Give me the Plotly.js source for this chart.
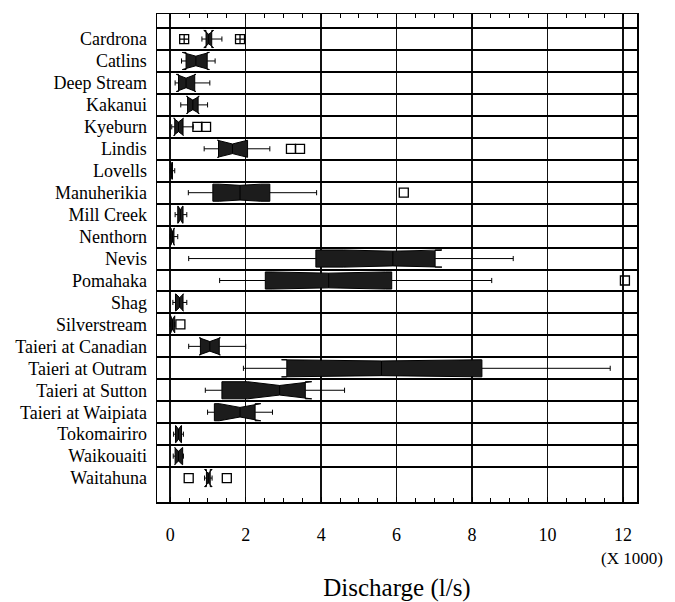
<!DOCTYPE html>
<html>
<head>
<meta charset="utf-8">
<script src="https://cdn.plot.ly/plotly-3.0.1.min.js"></script>
<style>
html,body{margin:0;padding:0;background:#fff;}
#chart{width:675px;height:602px;}
</style>
</head>
<body>
<div id="chart"></div>
<script>
// Sites (categories, top to bottom)
var sites = ["Cardrona","Catlins","Deep Stream","Kakanui","Kyeburn","Lindis","Lovells",
  "Manuherikia","Mill Creek","Nenthorn","Nevis","Pomahaka","Shag","Silverstream",
  "Taieri at Canadian","Taieri at Outram","Taieri at Sutton","Taieri at Waipiata",
  "Tokomairiro","Waikouaiti","Waitahuna"];

// Box statistics, discharge in thousands of l/s
var lowerFence = [0.84,0.30,0.13,0.28,0.04,0.90,0.00,0.48,0.13,0.00,0.49,1.31,0.07,0.00,0.49,1.94,0.93,0.99,0.09,0.08,0.93];
var q1Vals     = [0.95,0.42,0.22,0.46,0.12,1.28,0.02,1.13,0.20,0.02,3.86,2.52,0.14,0.02,0.80,3.09,1.37,1.17,0.14,0.13,0.96];
var medianVals = [1.02,0.68,0.42,0.60,0.22,1.65,0.04,1.85,0.27,0.06,5.90,4.20,0.25,0.06,1.05,5.60,2.90,1.85,0.22,0.22,1.01];
var q3Vals     = [1.10,0.98,0.65,0.74,0.34,2.05,0.06,2.64,0.34,0.10,7.02,5.87,0.34,0.12,1.30,8.26,3.58,2.25,0.30,0.33,1.06];
var upperFence = [1.37,1.19,1.05,0.99,0.61,2.64,0.12,3.88,0.44,0.20,9.09,8.52,0.44,0.12,2.00,11.66,4.62,2.71,0.35,0.35,1.08];
var notchSpan  = [0.13,0.36,0.26,0.17,0.13,0.40,0.02,0.55,0.06,0.05,1.30,1.50,0.10,0.06,0.28,2.65,0.85,0.55,0.07,0.10,0.10];

// Sites whose notches are only faintly visible (wide boxes)
var shallowNotchSites = ["Manuherikia","Nevis","Pomahaka","Taieri at Outram"];

// Outside points
var outlierSites  = ["Cardrona","Cardrona","Kyeburn","Kyeburn","Lindis","Lindis","Manuherikia","Pomahaka","Silverstream","Waitahuna","Waitahuna"];
var outlierValues = [0.37,1.85,0.72,0.95,3.20,3.44,6.19,12.05,0.27,0.49,1.50];
var farOutlier    = [true,true,false,false,false,false,false,false,false,false,false];

// Axis ticks
var xTickVals = [0,2,4,6,8,10,12];
var xTickText = ["0","2","4","6","8","10","12"];

function boxGroup(keep, notchW) {
  var idx = [];
  sites.forEach(function(s, i){ if (keep(s)) idx.push(i); });
  function pick(arr){ return idx.map(function(i){ return arr[i]; }); }
  return {
    type: "box",
    orientation: "h",
    y: pick(sites),
    q1: pick(q1Vals),
    median: pick(medianVals),
    q3: pick(q3Vals),
    lowerfence: pick(lowerFence),
    upperfence: pick(upperFence),
    notchspan: pick(notchSpan),
    notched: true,
    notchwidth: notchW,
    width: 0.78,
    whiskerwidth: 0.3,
    fillcolor: "#1c1c1c",
    line: {color: "#000", width: 1},
    boxpoints: false,
    hoverinfo: "skip",
    showlegend: false
  };
}

var deepBoxes = boxGroup(function(s){ return shallowNotchSites.indexOf(s) < 0; }, 0.22);
var shallowBoxes = boxGroup(function(s){ return shallowNotchSites.indexOf(s) >= 0; }, 0.07);

var outTrace = {
  type: "scatter",
  mode: "markers",
  x: outlierValues,
  y: outlierSites,
  marker: {
    symbol: farOutlier.map(function(f){ return f ? "square-cross-open" : "square-open"; }),
    size: 9,
    color: "#000",
    line: {width: 1.3, color: "#000"}
  },
  hoverinfo: "skip",
  showlegend: false
};

var serif = "Liberation Serif, Times New Roman, serif";

var layout = {
  width: 675,
  height: 602,
  margin: {l: 157, r: 38, t: 14, b: 100},
  paper_bgcolor: "#fff",
  plot_bgcolor: "#fff",
  font: {family: serif, color: "#000"},
  showlegend: false,
  boxmode: "overlay",
  xaxis: {
    range: [-0.35, 12.37],
    tickvals: xTickVals,
    ticktext: xTickText,
    tickfont: {family: serif, size: 18, color: "#000"},
    ticks: "inside",
    ticklen: 5,
    tickcolor: "#000",
    ticklabelstandoff: 16,
    showgrid: true,
    gridcolor: "#111",
    gridwidth: 1.5,
    zeroline: false,
    showline: true,
    linecolor: "#000",
    linewidth: 1.5,
    mirror: "ticks",
    minor: {dtick: 0.5, tick0: 0, ticks: "inside", ticklen: 4, tickcolor: "#000", showgrid: false},
    title: {text: "Discharge (l/s)", font: {family: serif, size: 25, color: "#000"}, standoff: 36}
  },
  yaxis: {
    type: "category",
    categoryorder: "array",
    categoryarray: sites,
    range: [21.09, -1.14],
    tickmode: "linear",
    tick0: 0,
    dtick: 1,
    tickson: "boundaries",
    ticks: "",
    tickfont: {family: serif, size: 18, color: "#000"},
    ticklabelstandoff: 5,
    showgrid: true,
    gridcolor: "#000",
    gridwidth: 2,
    zeroline: false,
    showline: true,
    linecolor: "#000",
    linewidth: 1.5,
    mirror: true
  },
  annotations: [{
    text: "(X 1000)",
    xref: "paper", yref: "paper",
    x: 0.99, y: -0.115,
    xanchor: "center", yanchor: "middle",
    showarrow: false,
    font: {family: serif, size: 17, color: "#000"}
  }]
};

Plotly.newPlot("chart", [deepBoxes, shallowBoxes, outTrace], layout, {displayModeBar: false, staticPlot: true});
</script>
</body>
</html>
